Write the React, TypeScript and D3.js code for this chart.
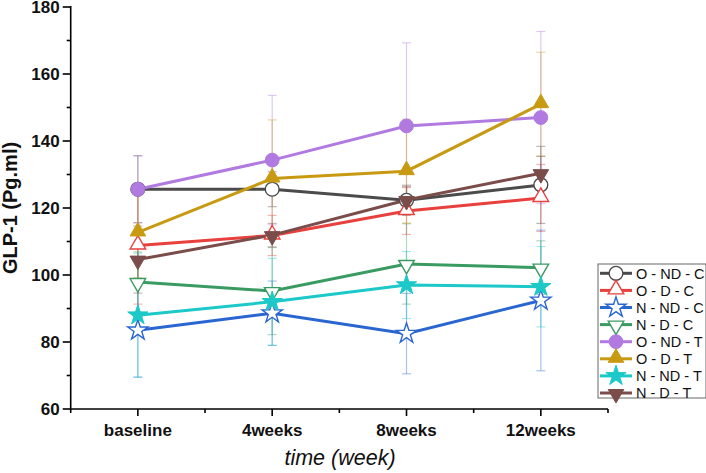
import * as d3 from 'd3';

const categories = ['baseline', '4weeks', '8weeks', '12weeks'];
const yTicks = [60, 80, 100, 120, 140, 160, 180];

const seriesNames = ['O - ND - C', 'O - D - C', 'N - ND - C', 'N - D - C', 'O - ND - T', 'O - D - T', 'N - ND - T', 'N - D - T'];
const oNdC = [125.6, 125.6, 122.3, 126.9];
const oDC = [108.8, 111.8, 119.1, 123];
const nNdC = [83.5, 88.6, 82.5, 92.4];
const nDC = [97.9, 95.2, 103.3, 102.2];
const oNdT = [125.6, 134.3, 144.5, 147];
const oDT = [112.7, 128.8, 131, 151];
const nNdT = [88, 92, 97, 96.5];
const nDT = [104.6, 111.9, 122.4, 130.4];

const oNdCErr = [10, 5.2, 4.5, 11.5];
const oDCErr = [17.5, 6, 7, 10];
const nNdCErr = [14, 9.6, 12, 21];
const nDCErr = [9, 13, 12, 8];
const oNdTErr = [10, 19.3, 24.8, 25.7];
const oDTErr = [13.5, 17.5, 15.5, 15.5];
const nNdTErr = [18.5, 13, 10, 12];
const nDTErr = [10, 3.5, 4, 5];

const colors = ['#4b4b4b', '#e8403d', '#2a66d0', '#3a9b62', '#b07ae0', '#c89a12', '#1cc8c8', '#7a4c4a'];
const shapes = ['circle', 'triangle', 'star', 'down', 'circle', 'triangle', 'star', 'down'];
const filled = [false, false, false, false, true, true, true, true];

const W = 706;
const H = 473;
const M = { left: 70.7, right: 608, top: 7, bottom: 409 };
const FONT = 'Liberation Sans, Arial, sans-serif';

function symbolPath(shape: string, size: number) {
  const t = shape === 'circle' ? d3.symbolCircle : shape === 'star' ? d3.symbolStar : d3.symbolTriangle;
  const s = shape === 'circle' ? size : shape === 'star' ? size * 0.85 : size * 0.7;
  return d3.symbol(t, s)() || '';
}

function Marker({ x, y, i, size }: { x: number; y: number; i: number; size: number }) {
  const rot = shapes[i] === 'down' ? 180 : 0;
  const dy = shapes[i] === 'triangle' ? -1 : shapes[i] === 'down' ? 1 : 0;
  return (
    <path
      d={symbolPath(shapes[i], size)}
      transform={`translate(${x},${y + dy}) rotate(${rot})`}
      fill={filled[i] ? colors[i] : '#fff'}
      stroke={colors[i]}
      strokeWidth={filled[i] ? 1 : 1.4}
    />
  );
}

export default function App() {
  const values = [oNdC, oDC, nNdC, nDC, oNdT, oDT, nNdT, nDT];
  const errs = [oNdCErr, oDCErr, nNdCErr, nDCErr, oNdTErr, oDTErr, nNdTErr, nDTErr];

  const x = d3.scaleBand().domain(categories).range([M.left, M.right]);
  const cx = (c: string) => (x(c) || 0) + x.bandwidth() / 2;
  const y = d3.scaleLinear().domain([60, 180]).range([M.bottom, M.top]);
  const minorY = d3.range(70, 180, 20);
  const minorX = d3.range(0, categories.length + 1).map(i => M.left + i * x.bandwidth());

  const line = d3.line<number>()
    .x((_, k) => cx(categories[k]))
    .y(d => y(d));

  const order = [0, 1, 2, 3, 4, 5, 6, 7];
  const legendX = 598;
  const legendY = 264;
  const rowH = 17.1;

  return (
    <svg width={W} height={H} style={{ position: 'absolute', left: 0, top: 0, background: '#fff' }}>
      {/* error bars */}
      {order.map(i =>
        values[i].map((v, k) => {
          const px = cx(categories[k]);
          const hi = y(v + errs[i][k]);
          const lo = y(v - errs[i][k]);
          return (
            <g key={`e${i}-${k}`} stroke={colors[i]} strokeOpacity={0.4} strokeWidth={1.2}>
              <line x1={px} x2={px} y1={hi} y2={lo} />
              <line x1={px - 4.5} x2={px + 4.5} y1={hi} y2={hi} />
              <line x1={px - 4.5} x2={px + 4.5} y1={lo} y2={lo} />
            </g>
          );
        })
      )}
      {/* lines */}
      {order.map(i => (
        <path key={`l${i}`} d={line(values[i]) || ''} fill="none" stroke={colors[i]} strokeWidth={3} />
      ))}
      {/* markers */}
      {order.map(i =>
        values[i].map((v, k) => (
          <Marker key={`m${i}-${k}`} x={cx(categories[k])} y={y(v)} i={i} size={150} />
        ))
      )}

      {/* axes */}
      <g stroke="#000" strokeWidth={1.6} fill="none">
        <line x1={M.left} x2={M.left} y1={M.top - 1} y2={M.bottom} />
        <line x1={M.left} x2={M.right} y1={M.bottom} y2={M.bottom} />
        {yTicks.map(t => (
          <line key={`yt${t}`} x1={M.left - 8} x2={M.left} y1={y(t)} y2={y(t)} />
        ))}
        {minorY.map(t => (
          <line key={`ym${t}`} x1={M.left - 4} x2={M.left} y1={y(t)} y2={y(t)} />
        ))}
        {categories.map(c => (
          <line key={`xt${c}`} x1={cx(c)} x2={cx(c)} y1={M.bottom} y2={M.bottom + 7} />
        ))}
        {minorX.map((m, k) => (
          <line key={`xm${k}`} x1={m} x2={m} y1={M.bottom} y2={M.bottom + 4} />
        ))}
      </g>
      <g fontFamily={FONT} fontWeight="bold" fontSize={17} fill="#111">
        {yTicks.map(t => (
          <text key={`yl${t}`} x={M.left - 11} y={y(t)} dy="0.36em" textAnchor="end">{t}</text>
        ))}
        {categories.map(c => (
          <text key={`xl${c}`} x={cx(c)} y={M.bottom + 27} textAnchor="middle">{c}</text>
        ))}
        <text transform={`translate(17,${(M.top + M.bottom) / 2}) rotate(-90)`} textAnchor="middle" fontSize={20}>
          GLP-1 (Pg.ml)
        </text>
      </g>
      <text x={340} y={465} textAnchor="middle" fontFamily={FONT} fontStyle="italic" fontSize={21.5} fill="#111">
        time (week)
      </text>

      {/* legend */}
      <rect x={legendX} y={legendY} width={108} height={134} fill="#fff" stroke="#666" strokeWidth={1} />
      {order.map((i, r) => {
        const ly = legendY + 9.3 + r * rowH;
        return (
          <g key={`lg${i}`}>
            <line x1={legendX + 2} x2={legendX + 34} y1={ly} y2={ly} stroke={colors[i]} strokeWidth={3} />
            <Marker x={legendX + 18} y={ly} i={i} size={150} />
            <text x={legendX + 38} y={ly} dy="0.36em" fontFamily={FONT} fontSize={14.5} fill="#111">
              {seriesNames[i]}
            </text>
          </g>
        );
      })}
    </svg>
  );
}
